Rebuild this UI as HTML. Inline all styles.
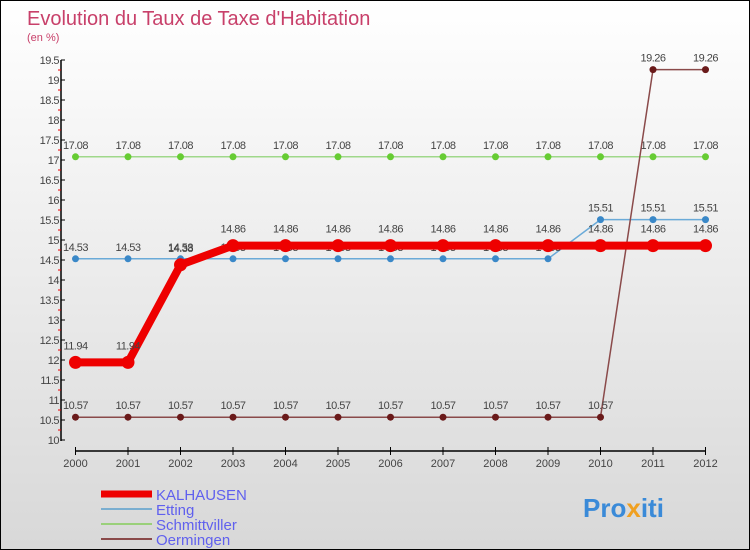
<!DOCTYPE html>
<html><head><meta charset="utf-8"><style>
body{margin:0}
#c{width:748px;height:548px;border:1px solid #000;background:linear-gradient(#fff,#d8d8d8);position:relative;font-family:"Liberation Sans",sans-serif;overflow:hidden}
svg text{font-family:"Liberation Sans",sans-serif}
</style></head><body>
<div id="c">
<svg id="s" width="748" height="548" xmlns="http://www.w3.org/2000/svg">
<text x="26" y="24" font-size="20" fill="#c8406a">Evolution du Taux de Taxe d'Habitation</text>
<text x="26" y="40" font-size="11" fill="#c8406a">(en %)</text>
</svg>
</div>
<script>
const years=[2000,2001,2002,2003,2004,2005,2006,2007,2008,2009,2010,2011,2012];
const kalhausen=[11.94,11.94,14.38,14.86,14.86,14.86,14.86,14.86,14.86,14.86,14.86,14.86,14.86];
const etting=[14.53,14.53,14.53,14.53,14.53,14.53,14.53,14.53,14.53,14.53,15.51,15.51,15.51];
const schmittviller=[17.08,17.08,17.08,17.08,17.08,17.08,17.08,17.08,17.08,17.08,17.08,17.08,17.08];
const oermingen=[10.57,10.57,10.57,10.57,10.57,10.57,10.57,10.57,10.57,10.57,10.57,19.26,19.26];
const yTicks=[10,10.5,11,11.5,12,12.5,13,13.5,14,14.5,15,15.5,16,16.5,17,17.5,18,18.5,19,19.5];
const seriesNames=["KALHAUSEN","Etting","Schmittviller","Oermingen"];
const NS="http://www.w3.org/2000/svg",s=document.getElementById('s');
const xs=i=>74.5+i*52.5, ys=v=>439-(v-10)*40;
function el(t,a){const e=document.createElementNS(NS,t);for(const k in a)e.setAttribute(k,a[k]);s.appendChild(e);return e;}
let ax=el('line',{x1:60,y1:59,x2:60,y2:440,stroke:'#000','stroke-width':1.5});

let bx=el('line',{x1:74,y1:450,x2:705,y2:450,stroke:'#000','stroke-width':1.5});

yTicks.forEach((v,k)=>{const y=ys(v);
 el('line',{x1:60,y1:y,x2:64,y2:y,stroke:'#000'});
 if(k<yTicks.length-1) el('line',{x1:57,y1:y-10,x2:60,y2:y-10,stroke:'#e00'});
 const t=el('text',{x:58,y:y+4,'font-size':11,fill:'#444','text-anchor':'end','letter-spacing':'-0.5'});t.textContent=v;
 });
years.forEach((yr,i)=>{const x=xs(i);el('line',{x1:x,y1:446,x2:x,y2:454,stroke:'#000'});
 const t=el('text',{x:x,y:466,'font-size':11,fill:'#444','text-anchor':'middle'});t.textContent=yr;
 });
function series(d,col,w,r,dot,name,lab){
 const p=el('polyline',{points:d.map((v,i)=>xs(i)+','+ys(v)).join(' '),fill:'none',stroke:col,'stroke-width':w});
 
 d.forEach((v,i)=>{const c=el('circle',{cx:xs(i),cy:ys(v),r:r,fill:dot});
  
  const t=el('text',{x:xs(i),y:ys(v)-lab,'font-size':11,fill:'#444','text-anchor':'middle','letter-spacing':'-0.5'});t.textContent=v;
  });
}
series(schmittviller,'#9fd88a',1.5,3.5,'#6c3','schmittviller',8);
series(etting,'#6aaad8',1.5,3.5,'#3a88c8','etting',8);
series(oermingen,'#8a4a4a',1.5,3.5,'#6a1a1a','oermingen',8);
series(kalhausen,'#e00',8,6.5,'#e00','kalhausen',13);
const lc=['#e00','#7aaed0','#9ad07a','#8a4a4a'],lw=[7,2,2,2];
seriesNames.forEach((n,i)=>{const y=493+i*15;
 const l=el('line',{x1:100,y1:y,x2:151,y2:y,stroke:lc[i],'stroke-width':lw[i]});
 
 const t=el('text',{x:155,y:y+6,'font-size':15,fill:'#6060ee'});t.textContent=n;
 });
const lg=el('text',{x:582,y:516,'font-size':26,'font-weight':'bold',fill:'#3a8ad8'});

lg.innerHTML='Pro<tspan fill="#f0a020">x</tspan>iti';
</script>
</body></html>
